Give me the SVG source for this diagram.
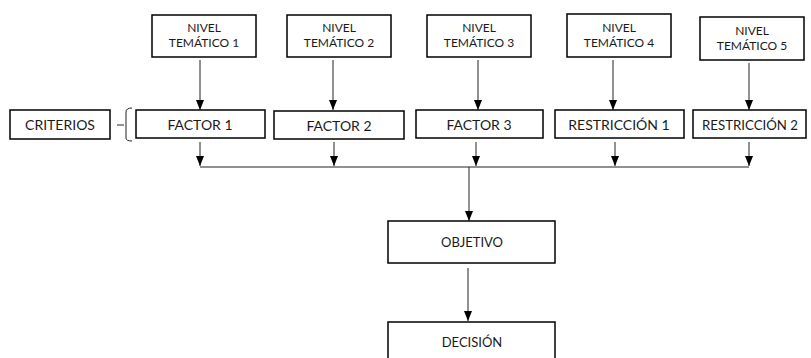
<svg xmlns="http://www.w3.org/2000/svg" width="811" height="358" viewBox="0 0 811 358">
<style>
  .box { fill: #ffffff; stroke: #000000; stroke-width: 1.5; }
  .t { font-family: Lato, "Open Sans", "Liberation Sans", sans-serif; fill: #1a1a1a; text-anchor: middle; }
  .s { font-size: 12px; }
  .m { font-size: 14px; }
  .o { font-size: 13px; }
  .c { stroke: #222222; stroke-width: 1; fill: none; }
</style>
<defs>
  <marker id="arr" markerUnits="userSpaceOnUse" markerWidth="10" markerHeight="10" viewBox="0 0 10 10" refX="10" refY="5" orient="auto">
    <path d="M0,1 L10,5 L0,9 Z" fill="#000000"/>
  </marker>
</defs>
<rect width="811" height="358" fill="#ffffff"/>

<g id="nivel1"><rect class="box" x="152" y="15" width="104" height="42"/><text class="t s" x="204" y="32">NIVEL</text><text class="t s" x="204" y="47">TEMÁTICO 1</text></g>
<g id="nivel2"><rect class="box" x="287" y="15" width="104" height="42"/><text class="t s" x="339" y="32">NIVEL</text><text class="t s" x="339" y="47">TEMÁTICO 2</text></g>
<g id="nivel3"><rect class="box" x="427" y="15" width="104" height="42"/><text class="t s" x="479" y="32">NIVEL</text><text class="t s" x="479" y="47">TEMÁTICO 3</text></g>
<g id="nivel4"><rect class="box" x="567" y="14" width="104" height="43"/><text class="t s" x="619" y="32">NIVEL</text><text class="t s" x="619" y="47">TEMÁTICO 4</text></g>
<g id="nivel5"><rect class="box" x="700" y="17" width="104" height="43"/><text class="t s" x="752" y="35">NIVEL</text><text class="t s" x="752" y="50">TEMÁTICO 5</text></g>

<g id="criterios"><rect class="box" x="10" y="110" width="100" height="29"/><text class="t m" x="60" y="130">CRITERIOS</text>
  <path class="c" d="M117,125 H124 M132,108 Q126,108 126,112 V138 Q126,141 132,141" stroke="#666666"/>
</g>

<g id="factor1"><rect class="box" x="136" y="110" width="129" height="28"/><text class="t m" x="200" y="130">FACTOR 1</text></g>
<g id="factor2"><rect class="box" x="274" y="111" width="130" height="28"/><text class="t m" x="339" y="131">FACTOR 2</text></g>
<g id="factor3"><rect class="box" x="416" y="110" width="127" height="28"/><text class="t m" x="479" y="130">FACTOR 3</text></g>
<g id="restriccion1"><rect class="box" x="555" y="110" width="129" height="28"/><text class="t m" x="619" y="130">RESTRICCIÓN 1</text></g>
<g id="restriccion2"><rect class="box" x="693" y="110" width="113" height="28"/><text class="t m" x="750" y="130" textLength="96" lengthAdjust="spacingAndGlyphs">RESTRICCIÓN 2</text></g>

<g id="objetivo"><rect class="box" x="388" y="221" width="167" height="42"/><text class="t o" x="472" y="247">OBJETIVO</text></g>
<g id="decision"><rect class="box" x="388" y="322" width="167" height="40"/><text class="t o" x="472" y="347">DECISIÓN</text></g>

<g id="connectors">
  <line class="c" x1="200" y1="60" x2="200" y2="110" marker-end="url(#arr)"/>
  <line class="c" x1="333" y1="60" x2="333" y2="110" marker-end="url(#arr)"/>
  <line class="c" x1="478" y1="60" x2="478" y2="110" marker-end="url(#arr)"/>
  <line class="c" x1="613" y1="60" x2="613" y2="110" marker-end="url(#arr)"/>
  <line class="c" x1="749" y1="63" x2="749" y2="110" marker-end="url(#arr)"/>

  <line class="c" x1="200" y1="142" x2="200" y2="166" marker-end="url(#arr)"/>
  <line class="c" x1="334" y1="142" x2="334" y2="166" marker-end="url(#arr)"/>
  <line class="c" x1="476" y1="142" x2="476" y2="166" marker-end="url(#arr)"/>
  <line class="c" x1="615" y1="142" x2="615" y2="166" marker-end="url(#arr)"/>
  <line class="c" x1="749" y1="142" x2="749" y2="166" marker-end="url(#arr)"/>

  <line class="c" x1="200" y1="167" x2="749" y2="167"/>
  <line class="c" x1="469" y1="167" x2="469" y2="221" marker-end="url(#arr)"/>
  <line class="c" x1="468" y1="268" x2="468" y2="321" marker-end="url(#arr)"/>
</g>
</svg>
